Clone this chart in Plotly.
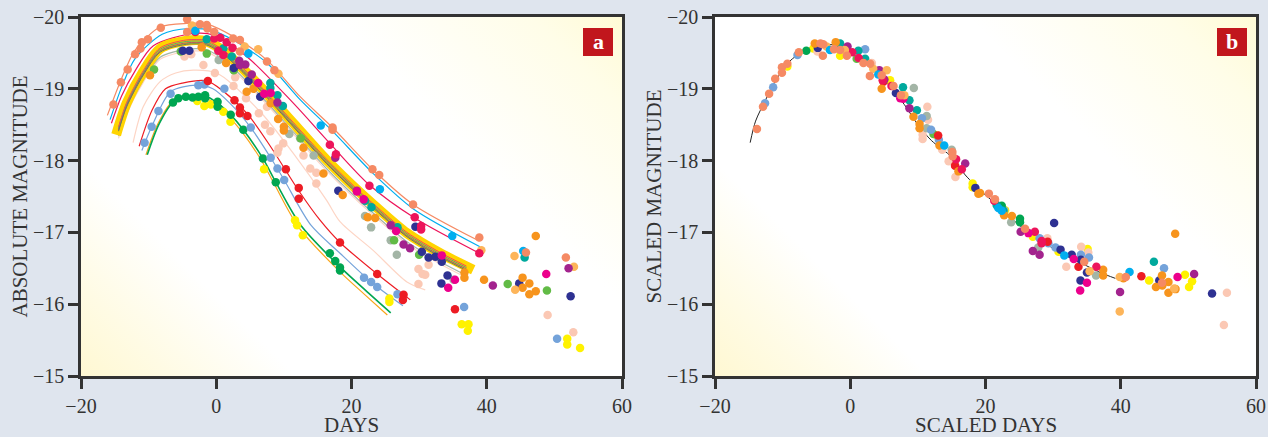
import base64
import plotly.graph_objects as go

# ---------- colours ----------
SALMON = "#F58A64"; SKY = "#00AEEF"; CRIMSON = "#ED145B"; MAGENTA = "#EC008C"
PURPLE = "#A3238E"; NAVY = "#2E3192"; TEAL = "#00A99D"; SAGE = "#A3B5A6"
LTORANGE = "#FDB55A"; ORANGE = "#F7941D"; LTGREEN = "#62BB46"; GREEN = "#00A651"
LTBLUE = "#74A3DA"; RED = "#ED1C24"; YELLOW = "#FFF200"; PALE = "#FBC8B4"
AMBER = "#F9A51A"; BANDYELLOW = "#FFD400"

# ---------- panel a: points (day, magnitude) ----------
A_PALE = [(-4.7,-19.45),(-3.7,-19.48),(-1.9,-19.33),(-0.2,-19.22),(2.55,-19.04),(2.8,-19.16),(4.4,-18.87),(6.3,-18.66),(7.5,-18.75),(7.2,-18.5),(8,-18.41),(9.9,-18.24),(9.2,-18.17),(9.05,-18.11),(12.9,-18.07),(13.9,-17.89),(14.8,-17.83),(14.8,-17.68),(29.9,-16.49),(30.5,-16.42),(30.9,-16.41),(31.4,-16.55),(29.9,-16.28),(49,-15.85),(52.8,-15.61)]
A_YELLOW = [(-2.8,-18.83),(-1.76,-18.76),(-0.8,-18.78),(1.05,-18.68),(2.1,-18.54),(7.07,-17.88),(11.65,-17.17),(12.8,-16.96),(11.95,-17.1),(25.6,-16.08),(25.6,-16.03),(36.3,-15.72),(37.3,-15.72),(37.2,-15.63),(51.9,-15.52),(51.9,-15.44),(53.8,-15.39)]
A_SAGE = [(0.36,-19.4),(2.55,-19.27),(10.8,-18.37),(12.4,-18.31),(14.4,-18.07),(22,-17.23),(22.9,-17.07),(25.8,-16.89),(26.7,-16.69),(35.1,-16.34)]
A_LTGREEN = [(-9.2,-19.27),(-1.4,-19.49),(-5.25,-19.52),(2.6,-19.26),(12.5,-18.31),(26.3,-16.89),(30,-16.69),(43.1,-16.28),(48.9,-16.19)]
A_GREEN = [(-6.4,-18.81),(-5.6,-18.87),(-4.5,-18.89),(-3.5,-18.88),(-2.65,-18.89),(-1.65,-18.91),(-1.65,-18.87),(0.2,-18.82),(0.2,-18.75),(2.14,-18.64),(4,-18.43),(6.9,-18.03),(8.8,-17.7),(16.8,-16.71),(17.6,-16.6),(18.3,-16.51),(18.3,-16.47)]
A_LTBLUE = [(-10.6,-18.25),(-9.55,-18.47),(-8.55,-18.69),(-6.75,-18.93),(-2.65,-19.05),(-1.75,-19.06),(1.2,-19),(5.1,-18.46),(8.05,-18.04),(9.05,-17.89),(10.05,-17.73),(21.85,-16.37),(22.9,-16.31),(23.8,-16.24),(26.8,-16.14),(36.65,-15.96),(50.4,-15.52)]
A_RED = [(-1.25,-19.11),(2.7,-18.84),(3.5,-18.74),(3.5,-18.66),(4.6,-18.62),(10.3,-17.88),(12.2,-17.62),(12.2,-17.47),(18.3,-16.86),(23.8,-16.42),(27.7,-16.13),(27.6,-16.06),(35.3,-15.93)]
A_NAVY = [(-4.95,-19.53),(-3.97,-19.53),(2.6,-19.29),(4.75,-19.11),(6.5,-18.89),(18.05,-17.58),(29.45,-17.08),(30.4,-16.73),(31.4,-16.65),(32.4,-16.66),(33.35,-16.59),(34.2,-16.4),(33.3,-16.29),(44.8,-16.29),(52.4,-16.11)]
A_TEAL = [(-1.4,-19.69),(1.05,-19.56),(2.3,-19.45),(8,-19.08),(8,-19.01),(9.05,-18.91),(9.85,-18.76),(22,-17.44),(22.95,-17.35),(26.8,-17.07),(45.6,-16.65)]
A_ORANGE = [(-2.15,-19.58),(-9.8,-19.19),(1.45,-19.36),(4.5,-18.96),(5.5,-19),(8.05,-18.8),(9.15,-18.58),(10,-18.47),(10,-18.42),(12.9,-18.18),(15.85,-17.82),(18.7,-17.52),(22.4,-17.21),(23.5,-17.2),(36.7,-16.44),(36.7,-16.37),(39.6,-16.34),(47.25,-16.95),(45.3,-16.37),(46.3,-16.29),(45.3,-16.23),(47.25,-16.18),(46.3,-16.14)]
A_LTORANGE = [(-3.6,-19.88),(4.2,-19.59),(6.2,-19.55),(9.2,-19.21),(44.1,-16.67),(39.2,-16.75),(52.9,-16.52),(44.2,-16.2)]
A_PURPLE = [(3.4,-19.39),(4.3,-19.34),(5.25,-19.2),(3.5,-19.33),(9.05,-18.81),(17.6,-18.04),(20.8,-17.58),(25.8,-17.1),(27.7,-16.83),(28.65,-16.78),(40.9,-16.26),(52.1,-16.5)]
A_CRIMSON = [(-3.1,-19.79),(-0.3,-19.7),(0.6,-19.71),(1.55,-19.65),(2.4,-19.57),(0.3,-19.53),(1.05,-19.47),(16.8,-18.22),(17.7,-18.09),(22.65,-17.65),(29.35,-17.21),(30.3,-17.09),(30.3,-17.04),(38.9,-16.71)]
A_MAGENTA = [(6.2,-19.08),(7.1,-18.93),(8.05,-18.94),(20.8,-17.57),(21.8,-17.46),(26.6,-17.02),(33.35,-16.68),(35.3,-16.34),(34.3,-16.23),(48.8,-16.42)]
A_SKY = [(-3.1,-19.81),(4.75,-19.49),(15.45,-18.49),(24.2,-17.6),(34.9,-16.95),(45.4,-16.74)]
A_SALMON = [(-15.2,-18.78),(-14.1,-19.09),(-13.1,-19.27),(-12,-19.48),(-11.2,-19.56),(-11,-19.65),(-10.1,-19.69),(-8.2,-19.85),(-4.3,-19.97),(-4.3,-19.79),(-2.4,-19.9),(-1.4,-19.89),(-1.3,-19.84),(-0.3,-19.79),(2.5,-19.7),(3.5,-19.68),(3.5,-19.52),(7.5,-19.38),(8.6,-19.26),(17.2,-18.43),(17.2,-18.46),(23.1,-17.88),(24.1,-17.8),(29.1,-17.39),(38.9,-16.93),(51.7,-16.65),(45.8,-16.72)]

# ---------- panel a: fitted curves ----------
BAND_DAYS = [-14.8,-13.25,-10.8,-8.3,-4.4,-1.4,1.55,6.5,11.4,16.3,21.3,23.2,28.2,33.1,38]
BAND_MAG = [-18.36,-18.8,-19.24,-19.56,-19.67,-19.66,-19.49,-19.03,-18.52,-18.01,-17.55,-17.39,-16.99,-16.71,-16.48]
FIT_DAYS = [-14.45,-13.25,-10.8,-8.3,-4.4,-1.4,1.55,6.5,11.4,16.3,21.3,23.2,28.2,33.1,37]
FIT_ORANGE = [-18.46,-18.8,-19.24,-19.56,-19.67,-19.66,-19.49,-19.03,-18.52,-18.01,-17.55,-17.39,-16.99,-16.71,-16.52]
FIT_MAGENTA = [-18.47,-18.81,-19.25,-19.57,-19.68,-19.67,-19.5,-19.04,-18.53,-18.02,-17.56,-17.4,-17,-16.72,-16.53]
FIT_TEAL = [-18.45,-18.79,-19.23,-19.55,-19.66,-19.65,-19.48,-19.02,-18.51,-18,-17.54,-17.38,-16.98,-16.7,-16.51]
FIT_PURPLE = [-18.43,-18.77,-19.21,-19.53,-19.64,-19.63,-19.46,-19,-18.49,-17.98,-17.52,-17.36,-16.96,-16.68,-16.49]
FIT_LTGREEN = [-18.42,-18.76,-19.2,-19.52,-19.63,-19.62,-19.45,-18.99,-18.48,-17.97,-17.51,-17.35,-16.95,-16.67,-16.48]
FIT_NAVY = [-18.41,-18.75,-19.19,-19.51,-19.62,-19.61,-19.44,-18.98,-18.47,-17.96,-17.5,-17.34,-16.94,-16.66,-16.47]
FIT_SAGE = [-18.34,-18.68,-19.12,-19.44,-19.55,-19.54,-19.37,-18.91,-18.4,-17.89,-17.43,-17.27,-16.87,-16.59,-16.4]
FIT_PALE = [-18.31,-18.65,-19.09,-19.41,-19.52,-19.51,-19.34,-18.88,-18.37,-17.86,-17.4,-17.24,-16.84,-16.56,-16.37]

TOP_SALMON_DAYS = [-16.1,-14.1,-12,-8.3,-4.4,-1.4,2.5,7.5,12.4,17.3,23.1,29.1,38.9]
TOP_SALMON_MAG = [-18.63,-19.12,-19.54,-19.86,-19.91,-19.9,-19.73,-19.4,-18.89,-18.45,-17.88,-17.39,-16.88]
TOP_SKY_DAYS = [-15.7,-14,-12,-8,-4,-1,2.5,7.5,12.4,17.3,23.1,29.1,39]
TOP_SKY_MAG = [-18.57,-19.02,-19.42,-19.76,-19.84,-19.82,-19.68,-19.36,-18.85,-18.4,-17.83,-17.33,-16.8]
TOP_CRIMSON_DAYS = [-15.5,-14,-12,-9.3,-3.4,-0.4,4.5,11.4,16.8,22.65,29.35,38.9]
TOP_CRIMSON_MAG = [-18.52,-18.9,-19.25,-19.6,-19.77,-19.75,-19.45,-18.8,-18.24,-17.66,-17.2,-16.71]
PALE_DAYS = [-12.3,-10.8,-8.3,-6,-3.4,0.07,6.5,11.4,16.3,18.3,23.2,28.2,30.9]
PALE_MAG = [-18.25,-18.75,-19.1,-19.22,-19.26,-19.22,-18.68,-18.1,-17.45,-17.15,-16.75,-16.31,-16.2]
RED_DAYS = [-11.4,-9.5,-7.5,-5,-1.4,1,4.6,8,12.2,15.35,18.3,23.8,28.7]
RED_MAG = [-18.2,-18.7,-19,-19.08,-19.11,-18.97,-18.65,-18.2,-17.58,-17.17,-16.86,-16.42,-16.06]
BLUE_DAYS = [-11,-9.55,-6.75,-3,-0.5,2,5.1,8.05,10.05,14,18.3,22.9,27.6]
BLUE_MAG = [-18.14,-18.47,-18.96,-19.05,-19,-18.8,-18.46,-18.04,-17.73,-17.1,-16.71,-16.31,-15.98]
GREEN_DAYS = [-10.2,-8.5,-6.4,-4,-1.6,0.2,2.1,4,6.9,8.8,12.5,18.3,22,25.8]
GREEN_MAG = [-18.08,-18.5,-18.81,-18.9,-18.9,-18.8,-18.64,-18.43,-18.03,-17.7,-17.1,-16.52,-16.2,-15.88]
AMBER_DAYS = [-10.4,-8.7,-6.6,-4.2,-1.8,0,1.9,3.8,6.7,8.6,12.2,18.3,22,25.3]
AMBER_MAG = [-18.08,-18.5,-18.81,-18.88,-18.88,-18.78,-18.61,-18.4,-18,-17.67,-17.07,-16.45,-16.13,-15.85]

# ---------- panel b: template and points ----------
TEMPLATE_DAYS = [-14.8,-14,-12.5,-11,-9,-7,-4.5,-2,0,2,4,6,8,10,12,15,17,20,22,25,28,31,34,37,39.2]
TEMPLATE_MAG = [-18.25,-18.55,-18.85,-19.12,-19.38,-19.52,-19.62,-19.6,-19.5,-19.38,-19.22,-19.02,-18.78,-18.5,-18.28,-18.05,-17.8,-17.52,-17.36,-17.1,-16.9,-16.72,-16.58,-16.44,-16.36]
B_PALE = [(-4.85,-19.52),(3.2,-19.36),(11.4,-18.75),(11.5,-18.57),(10.7,-18.36),(10.7,-18.3),(13.6,-18.15),(14.55,-17.99),(15.55,-17.93),(15.55,-17.77),(29.15,-16.92),(31.95,-16.52),(34.15,-16.8),(35.2,-16.72),(55.7,-16.16),(55.25,-15.71)]
B_YELLOW = [(-1.5,-19.46),(12.8,-18.35),(18.1,-17.68),(18.1,-17.63),(-5.45,-19.56),(5.9,-19.12),(-9.3,-19.31),(27,-16.94),(30.8,-16.73),(35.1,-16.77),(44.2,-16.33),(49.5,-16.41),(50.55,-16.32),(50.1,-16.24),(22.9,-17.31)]
B_SAGE = [(9.4,-19.01),(11.3,-18.62),(11.3,-18.45),(15,-18.15),(22.75,-17.31),(23.8,-17.14),(27.8,-16.79),(36.35,-16.4)]
B_LTGREEN = [(0.95,-19.42),(12.3,-18.37)]
B_GREEN = [(-6.5,-19.53),(22.4,-17.37),(25.1,-17.19),(25.1,-17.14)]
B_LTBLUE = [(-12.6,-18.8),(-11.4,-19.02),(-7.8,-19.47),(2.2,-19.55),(10.6,-18.59),(11.95,-18.43),(13.1,-18.29),(28,-16.92),(29.3,-16.85),(30.35,-16.79),(34.1,-16.69),(35.3,-16.65),(46.4,-16.5)]
B_RED = [(13,-18.35),(15.5,-17.93),(29.2,-16.87),(33.75,-16.52),(43.05,-16.39),(4.9,-19.1)]
B_NAVY = [(-4.8,-19.57),(6.75,-18.94),(18.5,-17.62),(30.15,-17.13),(31.1,-16.76),(32.75,-16.69),(34.1,-16.62),(35,-16.44),(34.05,-16.33),(45.7,-16.33),(53.5,-16.15)]
B_TEAL = [(-1.5,-19.63),(1.2,-19.53),(2.2,-19.42),(7.8,-19.02),(8.75,-18.84),(9.85,-18.7),(22.65,-17.3),(44.9,-16.59),(21.65,-17.38)]
B_ORANGE = [(-5.25,-19.63),(-2.15,-19.65),(4.65,-19),(9.35,-18.61),(10.25,-18.51),(10.25,-18.45),(13.2,-18.21),(16,-17.85),(18.95,-17.54),(19.2,-17.55),(22.75,-17.24),(23.9,-17.23),(37.4,-16.48),(37.4,-16.4),(40.4,-16.36),(48.05,-16.98),(46.1,-16.4),(47.05,-16.31),(45.2,-16.24),(46.15,-16.26),(48.1,-16.21),(47.05,-16.16)]
B_LTORANGE = [(-3.5,-19.59),(-0.8,-19.54),(5.4,-19.26),(3.4,-19.28),(8,-18.91),(35.4,-16.46),(39.85,-16.38),(39.85,-15.9),(47.9,-16.22)]
B_PURPLE = [(-0.4,-19.59),(5.05,-19.13),(8.75,-18.73),(17,-17.96),(4.3,-19.26),(25.2,-17.01),(27,-16.74),(28,-16.69),(39.9,-16.17),(50.85,-16.42)]
B_CRIMSON = [(0.3,-19.51),(1.25,-19.43),(4.8,-19.12),(6.1,-19.04),(16.5,-17.88),(15.65,-18.02),(21.3,-17.44),(27.3,-17.01),(28.3,-16.88),(28.3,-16.85),(36.4,-16.52)]
B_MAGENTA = [(7.4,-18.87),(7.85,-18.86),(26.35,-16.99),(33.05,-16.63),(35,-16.3),(34,-16.19),(48.4,-16.38)]
B_SKY = [(-3,-19.54),(4.15,-19.2),(13.9,-18.21),(21.9,-17.34),(22.4,-17.3),(31.65,-16.68),(41.3,-16.45)]
B_SALMON = [(-13.8,-18.44),(-12.9,-18.75),(-12,-18.93),(-11.1,-19.14),(-10.1,-19.3),(-10.1,-19.225),(-9.3,-19.35),(-7.6,-19.51),(-4.4,-19.63),(-4.05,-19.46),(-4,-19.62),(-2.4,-19.55),(-1.5,-19.54),(-0.5,-19.46),(1.95,-19.36),(2.95,-19.35),(2.9,-19.18),(4.65,-19.19),(6.4,-19.04),(7.5,-18.91),(15.1,-18.12),(15.15,-18.06),(20.5,-17.54),(21.4,-17.46),(25.85,-17.05),(34.6,-16.59),(40.75,-16.38),(46.1,-16.3)]

X_TICKS = [-20, 0, 20, 40, 60]
Y_TICKS = [-20, -19, -18, -17, -16, -15]
X_TITLES = ["DAYS", "SCALED DAYS"]
Y_TITLES = ["ABSOLUTE MAGNITUDE", "SCALED MAGNITUDE"]
PANEL_LABELS = ["a", "b"]

W, H = 1268, 437
L = [81, 715]; PW = 541; T = 17; B = 376
BG = "#DFE5EE"; INK = "#333333"; SERIF = "Liberation Serif"

fig = go.Figure()

def curve(xs, ys, color, width, ax):
    fig.add_trace(go.Scatter(x=xs, y=ys, mode="lines", xaxis=ax[0], yaxis=ax[1],
                             line=dict(color=color, width=width, shape="spline", smoothing=0.8),
                             hoverinfo="skip", showlegend=False))

def dots(pts, color, ax):
    fig.add_trace(go.Scatter(x=[p[0] for p in pts], y=[p[1] for p in pts], mode="markers",
                             xaxis=ax[0], yaxis=ax[1],
                             marker=dict(color=color, size=8.5, line=dict(width=0)),
                             hoverinfo="skip", showlegend=False))

A = ("x", "y"); Bx = ("x2", "y2")
for xs, ys, c, w in [
    (PALE_DAYS, PALE_MAG, "#FDD5C5", 1.2),
    (AMBER_DAYS, AMBER_MAG, AMBER, 1.2), (GREEN_DAYS, GREEN_MAG, GREEN, 1.6),
    (BLUE_DAYS, BLUE_MAG, LTBLUE, 1.2), (RED_DAYS, RED_MAG, RED, 1.2),
    (TOP_CRIMSON_DAYS, TOP_CRIMSON_MAG, CRIMSON, 1.2), (TOP_SKY_DAYS, TOP_SKY_MAG, SKY, 1.2),
    (TOP_SALMON_DAYS, TOP_SALMON_MAG, SALMON, 1.2),
    (FIT_DAYS, FIT_PALE, "#FDD5C5", 1.2), (FIT_DAYS, FIT_SAGE, SAGE, 1.2),
    (BAND_DAYS, BAND_MAG, BANDYELLOW, 10),
    (FIT_DAYS, FIT_NAVY, NAVY, 0.7), (FIT_DAYS, FIT_LTGREEN, LTGREEN, 0.7),
    (FIT_DAYS, FIT_PURPLE, PURPLE, 0.7), (FIT_DAYS, FIT_TEAL, TEAL, 0.8),
    (FIT_DAYS, FIT_MAGENTA, MAGENTA, 0.7), (FIT_DAYS, FIT_ORANGE, ORANGE, 0.6),
]:
    curve(xs, ys, c, w, A)
curve(TEMPLATE_DAYS, TEMPLATE_MAG, "#222222", 1, Bx)

for pts, c in [(A_PALE, PALE), (A_YELLOW, YELLOW), (A_SAGE, SAGE), (A_LTGREEN, LTGREEN), (A_GREEN, GREEN),
               (A_LTBLUE, LTBLUE), (A_RED, RED), (A_NAVY, NAVY), (A_TEAL, TEAL), (A_ORANGE, ORANGE),
               (A_LTORANGE, LTORANGE), (A_PURPLE, PURPLE), (A_CRIMSON, CRIMSON), (A_MAGENTA, MAGENTA),
               (A_SKY, SKY), (A_SALMON, SALMON)]:
    dots(pts, c, A)
for pts, c in [(B_YELLOW, YELLOW), (B_PALE, PALE), (B_SAGE, SAGE), (B_LTGREEN, LTGREEN), (B_GREEN, GREEN),
               (B_LTBLUE, LTBLUE), (B_RED, RED), (B_NAVY, NAVY), (B_TEAL, TEAL), (B_ORANGE, ORANGE),
               (B_PURPLE, PURPLE), (B_CRIMSON, CRIMSON), (B_MAGENTA, MAGENTA), (B_LTORANGE, LTORANGE),
               (B_SKY, SKY), (B_SALMON, SALMON)]:
    dots(pts, c, Bx)

svg = (f'<svg xmlns="http://www.w3.org/2000/svg" width="{PW}" height="{B-T}">'
       f'<defs><linearGradient id="g" gradientUnits="userSpaceOnUse" x1="0" y1="{B-T}" x2="{(PW+B-T)/2}" y2="{(B-T-PW)/2}">'
       '<stop offset="0" stop-color="#FFF8D2"/><stop offset="0.1" stop-color="#FFFBE4"/>'
       '<stop offset="0.24" stop-color="#FFFFFF"/><stop offset="0.68" stop-color="#FFFFFF"/>'
       '<stop offset="0.9" stop-color="#FFFDE8"/><stop offset="1" stop-color="#FFFBD6"/>'
       f'</linearGradient></defs><rect width="{PW}" height="{B-T}" fill="url(#g)"/></svg>')
src = "data:image/svg+xml;base64," + base64.b64encode(svg.encode()).decode()

def xdom(i): return [L[i] / W, (L[i] + PW) / W]
ydom = [1 - B / H, 1 - T / H]
axis_common = dict(showgrid=False, zeroline=False, showline=True, linecolor=INK, linewidth=2.5, mirror=True,
                   ticks="outside", ticklen=10, tickwidth=2.5, tickcolor=INK, automargin=False,
                   tickfont=dict(family=SERIF, size=20, color=INK))
images, annotations, shapes = [], [], []
for i, (xn, yn) in enumerate([("xaxis", "yaxis"), ("xaxis2", "yaxis2")]):
    fig.update_layout({
        xn: dict(domain=xdom(i), range=[-20, 60], tickvals=X_TICKS, anchor="y" if i == 0 else "y2", **axis_common),
        yn: dict(domain=ydom, range=[-15, -20], tickvals=Y_TICKS, anchor="x" if i == 0 else "x2",
                 title=dict(text=Y_TITLES[i], font=dict(family=SERIF, size=21, color=INK), standoff=0), **axis_common),
    })
    images.append(dict(source=src, xref="paper", yref="paper", x=xdom(i)[0], y=ydom[1],
                       sizex=PW / W, sizey=(B - T) / H, xanchor="left", yanchor="top",
                       sizing="stretch", layer="below"))
    sx0 = L[i] + PW - 39; sx1 = L[i] + PW - 9
    shapes.append(dict(type="rect", xref="paper", yref="paper", x0=sx0 / W, x1=sx1 / W,
                       y0=1 - 56 / H, y1=1 - 28 / H, fillcolor="#C1161D", line=dict(width=0), layer="above"))
    annotations.append(dict(text="<b>%s</b>" % PANEL_LABELS[i], xref="paper", yref="paper",
                            x=(sx0 + sx1) / 2 / W, y=1 - 41 / H, showarrow=False, xanchor="center", yanchor="middle",
                            font=dict(family=SERIF, size=22, color="white")))
    annotations.append(dict(text=X_TITLES[i], xref="paper", yref="paper",
                            x=(L[i] + PW / 2) / W, y=1 - 425 / H, showarrow=False, xanchor="center", yanchor="middle",
                            borderpad=0, font=dict(family=SERIF, size=21, color=INK)))

fig.update_layout(width=W, height=H, autosize=False, margin=dict(l=0, r=0, t=0, b=0),
                  paper_bgcolor=BG, plot_bgcolor="rgba(0,0,0,0)", images=images, shapes=shapes,
                  annotations=annotations, showlegend=False)
fig.write_html("out.html", config=dict(displayModeBar=False),
               post_script="document.body.style.margin='0';document.documentElement.style.overflow='hidden';")
